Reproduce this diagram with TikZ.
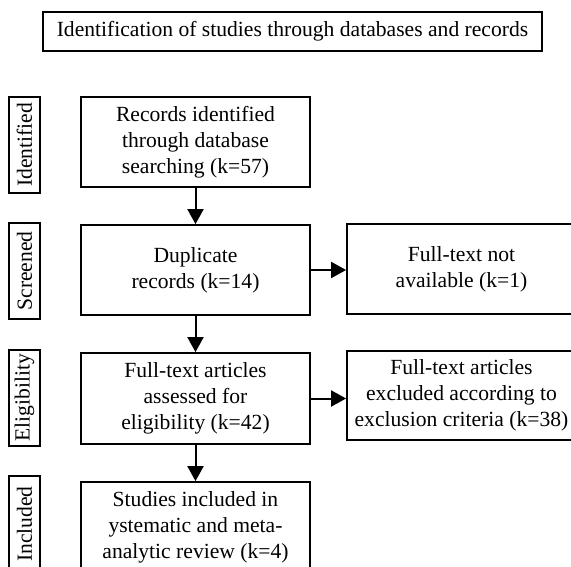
\documentclass[tikz,border=0pt]{standalone}
\usepackage{fontspec}
\setmainfont{Liberation Serif}
\usetikzlibrary{arrows.meta}
\begin{document}
\begin{tikzpicture}[x=1pt,y=-1pt,
  box/.style={draw=black, line width=1.8pt, fill=white, align=center, inner sep=0pt,
    minimum width=229pt, minimum height=90pt,
    font=\fontsize{21.6}{26}\selectfont},
  titlebox/.style={draw=black, line width=1.8pt, align=center, inner sep=0pt,
    minimum width=499pt, minimum height=39pt,
    font=\fontsize{21.6}{26}\selectfont},
  stagebox/.style={draw=black, line width=1.8pt, rotate=90, inner sep=0pt,
    minimum width=96pt, minimum height=31pt,
    font=\fontsize{21.6}{26}\selectfont},
  flow/.style={line width=2pt, -{Triangle[length=15pt, width=16pt]}}]
\useasboundingbox (0,0) rectangle (571,567);
\clip (0,0) rectangle (571,567);
\node[titlebox] (title) at (292.5,31.5) {Identification of studies through databases and records};
\node[stagebox] (lab1) at (24.5,145) {Identified};
\node[stagebox] (lab2) at (24.5,271) {Screened};
\node[stagebox] (lab3) at (24.5,398) {Eligibility};
\node[stagebox] (lab4) at (24.5,524) {Included};
\node[box] (rec) at (195.5,142) {Records identified\\through database\\searching (k=57)};
\node[box] (dup) at (195.5,270) {Duplicate\\records (k=14)};
\node[box] (na) at (461.5,269) {Full-text not\\available (k=1)};
\node[box, minimum height=91pt] (elig) at (195.5,398.5) {Full-text articles\\assessed for\\eligibility (k=42)};
\node[box, minimum height=89pt] (exc) at (461.5,395.5) {Full-text articles\\excluded according to\\exclusion criteria (k=38)};
\node[box] (inc) at (195.5,527) {Studies included in\\ystematic and meta-\\analytic review (k=4)};
\draw[flow] (rec.south) -- (dup.north);
\draw[flow] (dup.south) -- (elig.north);
\draw[flow] (elig.south) -- (inc.north);
\draw[flow] (dup.east) -- (dup.east -| na.west);
\draw[flow] (elig.east) -- (elig.east -| exc.west);
\end{tikzpicture}
\end{document}
